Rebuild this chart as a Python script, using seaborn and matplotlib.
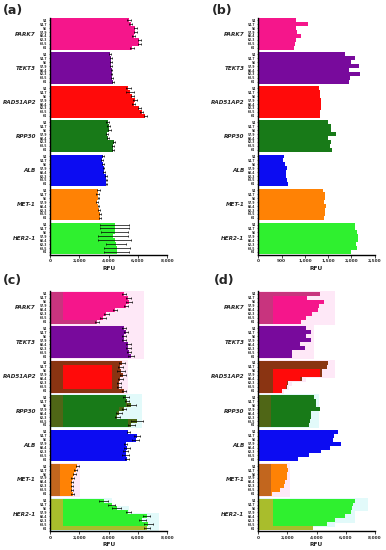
import numpy as np
import pandas as pd
import seaborn as sns
from matplotlib import pyplot as plt
from matplotlib import transforms

# Genes, gradient temperatures and colours
genes = ["PARK7", "TEKT3", "RAD51AP2", "RPP30", "ALB", "MET-1", "HER2-1"]
temps = ["54", "54.7", "56", "57.9", "60.4", "62.3", "63.5", "64"]
gene_colors = ["#f5168b", "#780a9c", "#ff0a0a", "#187a18", "#0c0cf2", "#ff8205", "#2ff02f"]
dark_colors = ["#c8347e", "#600c84", "#8a3412", "#4f6616", "#0c0cf2", "#c2661e", "#a9bd2c"]
halo_colors = ["#fee8f7", "#fee8f7", "#fee8f7", "#e2fafa", "#ffffff", "#fee8f7", "#e2fafa"]

# Panel (a): RFU per gene (rows = temps)
rfu_a = [[5400, 5500, 5800, 5800, 5700, 6100, 6100, 5600],
         [4100, 4150, 4150, 4150, 4200, 4200, 4250, 4300],
         [5350, 5450, 5600, 5800, 5700, 6100, 6250, 6500],
         [3950, 4000, 4050, 3900, 3950, 4350, 4300, 4300],
         [3600, 3550, 3600, 3650, 3700, 3800, 3850, 3850],
         [3300, 3250, 3300, 3200, 3300, 3350, 3400, 3400],
         [4400, 4400, 4400, 4300, 4400, 4500, 4550, 4550]]
err_a = [[150, 120, 100, 100, 100, 120, 120, 150],
         [60, 60, 60, 60, 60, 60, 60, 60],
         [200, 250, 100, 120, 100, 100, 100, 100],
         [100, 80, 120, 80, 80, 80, 80, 80],
         [60, 60, 60, 60, 60, 60, 60, 60],
         [100, 80, 60, 60, 60, 60, 60, 60],
         [1000, 1000, 950, 1000, 1100, 700, 900, 850]]

# Panel (b)
rfu_b = [[810, 1060, 820, 830, 910, 820, 790, 770],
         [1870, 2070, 2000, 2160, 1940, 2190, 1960, 1940],
         [1300, 1320, 1330, 1340, 1340, 1340, 1330, 1330],
         [1500, 1560, 1570, 1660, 1500, 1570, 1540, 1590],
         [560, 540, 570, 610, 590, 590, 610, 640],
         [1390, 1440, 1430, 1410, 1460, 1430, 1430, 1420],
         [2070, 2070, 2110, 2150, 2130, 2100, 2120, 2000]]

# Panel (c): total (dark shade) and bright part
total_c = [[5050, 5350, 5400, 5200, 4450, 3850, 3600, 3200],
           [5050, 5200, 5050, 5050, 5350, 5350, 5400, 5550],
           [4900, 4800, 4850, 4950, 4800, 4700, 4700, 5050],
           [5200, 5250, 5550, 5050, 4700, 4600, 5950, 5550],
           [5350, 5950, 5850, 5150, 5250, 5150, 5150, 5250],
           [1850, 1750, 1650, 1550, 1500, 1500, 1500, 1550],
           [3650, 4200, 4550, 5350, 6600, 6300, 6700, 6600]]
bright_c = [[5050, 5350, 5400, 5200, 4450, 3850, 3600, 0],
            [5050, 5200, 5050, 5050, 5350, 5350, 5400, 5550],
            [0, 4200, 4200, 4200, 4200, 4200, 4200, 0],
            [5150, 5200, 5200, 4700, 4600, 4500, 5300, 5300],
            [5350, 5950, 5850, 5150, 5250, 5150, 5150, 5250],
            [1850, 1750, 1650, 1550, 1500, 1500, 1500, 1550],
            [3650, 4200, 4550, 5350, 6600, 6300, 6700, 0]]
halo_c = [[6400] * 8,
          [6400] * 8,
          [5300] * 8,
          [6300] * 8,
          [0] * 8,
          [2050] * 8,
          [4200, 4200, 5400, 5400, 7400, 7400, 7400, 7400]]
err_c = [[150, 200, 200, 150, 150, 150, 200, 150],
         [120, 150, 150, 120, 200, 150, 150, 200],
         [200, 150, 250, 200, 150, 150, 150, 150],
         [200, 150, 300, 150, 200, 150, 400, 250],
         [120, 200, 250, 120, 200, 150, 250, 120],
         [100, 100, 100, 100, 100, 100, 100, 100],
         [300, 250, 300, 150, 250, 250, 300, 200]]
seg_c = [900, 0, 900, 900, 0, 700, 900]

# Panel (d)
total_d = [[4230, 3380, 4530, 4160, 4070, 3660, 3310, 2930],
           [3270, 3600, 3270, 3600, 2860, 3200, 2290, 2290],
           [4800, 4690, 4350, 4350, 2970, 2060, 1940, 1650],
           [3850, 3950, 3950, 4250, 3650, 3650, 3550, 3500],
           [5490, 5210, 5140, 5710, 4910, 4340, 3470, 2740],
           [1940, 2060, 2000, 1940, 1870, 1780, 1490, 960],
           [6670, 6510, 6450, 6400, 5940, 5260, 4690, 3770]]
bright_d = [[0, 3380, 4530, 4160, 4070, 3660, 3310, 2930],
            [3270, 3600, 3270, 3600, 2860, 3200, 2290, 2290],
            [0, 0, 4230, 4230, 2900, 2000, 1900, 1600],
            [3850, 3950, 3950, 4250, 3650, 3650, 3550, 3500],
            [5490, 5210, 5140, 5710, 4910, 4340, 3470, 2740],
            [1940, 2060, 2000, 1940, 1870, 1780, 1490, 960],
            [6670, 6510, 6450, 6400, 5940, 5260, 4690, 0]]
halo_d = [[5300] * 8,
          [3800] * 8,
          [5300, 5300, 5300, 5300, 3300, 2300, 2100, 1800],
          [4200] * 8,
          [0] * 8,
          [2150] * 8,
          [7550, 7550, 7550, 6650, 6650, 6650, 5300, 0]]
seg_d = [1000, 0, 1000, 900, 0, 900, 1000]

GAP = 0.7


def bar_positions():
    # One row per temperature, with a gap between genes
    return np.array([g * (len(temps) + GAP) + i
                     for g in range(len(genes)) for i in range(len(temps))])


def to_frame(values):
    return pd.DataFrame({"pos": bar_positions(),
                         "gene": np.repeat(genes, len(temps)),
                         "value": np.ravel(values)})


def bars(ax, values, colors, width=1.0):
    sns.barplot(data=to_frame(values), x="value", y="pos", hue="gene",
                palette=dict(zip(genes, colors)), orient="y", native_scale=True,
                dodge=False, width=width, legend=False, ax=ax,
                linewidth=0, errorbar=None, saturation=1)


def plot_panel(ax, label, total, bright=None, halo=None, err=None, seg=None,
               xmax=8000, step=2000):
    pos = bar_positions()
    if halo is not None:
        bars(ax, halo, halo_colors, width=1.5)
    bars(ax, total, dark_colors if bright is not None else gene_colors)
    if bright is not None:
        bars(ax, bright, gene_colors)
    if seg is not None:
        seg_vals = [[s] * len(temps) for s in seg]
        bars(ax, seg_vals, dark_colors)
    if err is not None:
        ax.errorbar(np.ravel(total), pos, xerr=np.ravel(err), fmt="none",
                    ecolor="black", elinewidth=0.5, capsize=0.9, capthick=0.5,
                    zorder=5)

    # Axes
    ax.set_xlim(0, xmax)
    ax.set_ylim(pos[-1] + 0.7, -0.7)
    ticks = np.arange(0, xmax + 1, step)
    ax.set_xticks(ticks)
    ax.set_xticklabels([f"{t:,}" for t in ticks], fontsize=3.1, fontweight="bold")
    ax.set_yticks(pos)
    ax.set_yticklabels(temps * len(genes), fontsize=2.2, fontweight="bold")
    ax.tick_params(axis="x", length=1.8, width=0.6, pad=1.5)
    ax.tick_params(axis="y", length=1, width=0.4, pad=1)
    ax.set_xlabel("RFU", fontsize=4.2, fontweight="bold", labelpad=2)
    ax.set_ylabel("")
    sns.despine(ax=ax)
    for side in ["left", "bottom"]:
        ax.spines[side].set_linewidth(1.0)
        ax.spines[side].set_color("black")

    # Gene names next to the temperature ticks
    trans = transforms.blended_transform_factory(ax.transAxes, ax.transData)
    for g, gene in enumerate(genes):
        centre = g * (len(temps) + GAP) + (len(temps) - 1) / 2
        ax.text(-0.12, centre, gene, transform=trans, ha="right", va="center",
                fontsize=4.1, fontweight="bold", fontstyle="italic")

    ax.figure.text(label[1], label[2], label[0], fontsize=9, fontweight="bold",
                   ha="left", va="top")


sns.set_style("ticks")
fig = plt.figure(figsize=(3.86, 5.5), dpi=100)

ax_a = fig.add_axes([0.1295, 0.537, 0.304, 0.431])
ax_b = fig.add_axes([0.669, 0.537, 0.302, 0.431])
ax_c = fig.add_axes([0.1295, 0.0345, 0.304, 0.436])
ax_d = fig.add_axes([0.669, 0.0345, 0.302, 0.436])

plot_panel(ax_a, ("(a)", 0.008, 0.993), rfu_a, err=err_a)
plot_panel(ax_b, ("(b)", 0.548, 0.993), rfu_b, xmax=2500, step=500)
plot_panel(ax_c, ("(c)", 0.008, 0.502), total_c, bright=bright_c, halo=halo_c,
           err=err_c, seg=seg_c)
plot_panel(ax_d, ("(d)", 0.553, 0.502), total_d, bright=bright_d, halo=halo_d,
           seg=seg_d)

fig.savefig("out.png", dpi=100)
